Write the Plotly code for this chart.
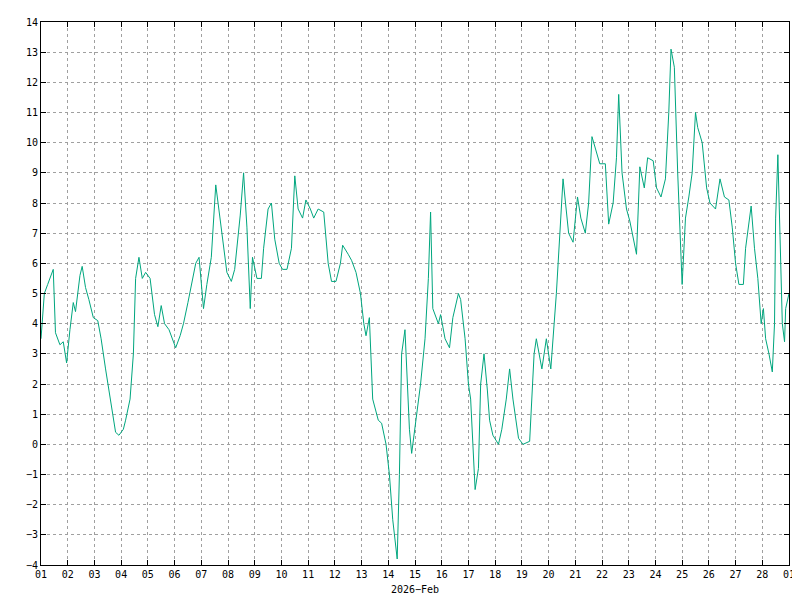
import pandas as pd
import plotly.graph_objs as go

# hours since 2026-02-01 00:00 and the value read at that hour
hours = [0, 3, 6, 11, 13, 17, 20, 23, 26, 29, 31, 35, 37, 40, 43, 47, 51, 54, 58, 61,
         64, 67, 70, 74, 76, 80, 83, 85, 88, 91, 94, 98, 102, 105, 108, 111, 115, 119, 121, 125,
         128, 132, 136, 139, 142, 146, 149, 153, 157, 161, 164, 167, 171, 174, 179, 182, 185, 188, 190, 194,
         198, 200, 204, 207, 210, 214, 217, 221, 225, 228, 231, 235, 238, 242, 245, 249, 254, 258, 261, 265,
         269, 271, 276, 279, 283, 287, 290, 292, 295, 298, 303, 306, 310, 313, 316, 320, 322, 324, 327, 331,
         333, 337, 341, 345, 348, 350, 352, 357, 359, 363, 367, 370, 375, 377, 381, 384, 386, 390, 393, 395,
         398, 401, 403, 406, 411, 414, 418, 421, 424, 429, 433, 439, 443, 445, 450, 454, 458, 463, 466, 469,
         474, 478, 482, 485, 489, 492, 495, 498, 502, 507, 510, 514, 517, 519, 522, 526, 529, 535, 538, 542,
         545, 550, 553, 557, 561, 564, 566, 569, 572, 576, 579, 582, 585, 588, 590, 594, 598, 601, 606, 610,
         614, 618, 621, 624, 627, 631, 633, 638, 641, 644, 647, 649, 651, 654, 657, 659, 660, 662, 664, 666,
         668, 669, 672]
values = [3.5, 5.0, 5.3, 5.8, 3.7, 3.3, 3.4, 2.7, 3.8, 4.7, 4.4, 5.6, 5.9, 5.2, 4.8, 4.2, 4.1, 3.5, 2.5, 1.8,
          1.0, 0.4, 0.3, 0.5, 0.8, 1.5, 3.0, 5.5, 6.2, 5.5, 5.7, 5.5, 4.3, 3.9, 4.6, 4.0, 3.8, 3.4, 3.2, 3.6,
          4.0, 4.7, 5.5, 6.0, 6.2, 4.5, 5.3, 6.2, 8.6, 7.5, 6.5, 5.7, 5.4, 5.8, 7.6, 9.0, 7.2, 4.5, 6.2, 5.5,
          5.5, 6.5, 7.8, 8.0, 6.8, 6.0, 5.8, 5.8, 6.5, 8.9, 7.8, 7.5, 8.1, 7.8, 7.5, 7.8, 7.7, 6.0, 5.4, 5.4,
          6.0, 6.6, 6.3, 6.1, 5.7, 5.0, 4.0, 3.6, 4.2, 1.5, 0.8, 0.7, 0.0, -1.0, -2.5, -3.8, -1.0, 3.0, 3.8, 0.5,
          -0.3, 0.8, 2.0, 3.5, 5.5, 7.7, 4.5, 4.0, 4.3, 3.5, 3.2, 4.2, 5.0, 4.8, 3.5, 2.0, 1.5, -1.5, -0.8, 2.0,
          3.0, 1.8, 0.8, 0.3, 0.0, 0.5, 1.5, 2.5, 1.5, 0.2, 0.0, 0.1, 3.0, 3.5, 2.5, 3.5, 2.5, 5.0, 7.0, 8.8,
          7.0, 6.7, 8.2, 7.5, 7.0, 8.0, 10.2, 9.8, 9.3, 9.3, 7.3, 8.0, 9.5, 11.6, 9.0, 7.8, 7.4, 6.3, 9.2, 8.5,
          9.5, 9.4, 8.5, 8.2, 8.8, 11.0, 13.1, 12.5, 9.0, 5.3, 7.5, 8.2, 9.0, 11.0, 10.5, 10.0, 8.5, 8.0, 7.8, 8.8,
          8.2, 8.1, 7.2, 6.0, 5.3, 5.3, 6.5, 7.9, 6.5, 5.5, 4.0, 4.5, 3.5, 3.0, 2.4, 4.0, 7.5, 9.6, 7.0, 4.0,
          3.4, 4.5, 5.0]

start = pd.Timestamp('2026-02-01')
times = [start + pd.Timedelta(hours=h) for h in hours]

fig = go.Figure(go.Scatter(x=times, y=values, mode='lines',
                           line=dict(color='#00a67e', width=1), hoverinfo='skip'))

axis_common = dict(showline=True, linecolor='black', linewidth=1, mirror='ticks',
                   ticks='inside', ticklen=5, tickcolor='black', automargin=False,
                   showgrid=True, gridcolor='#a0a0a0', griddash='dot', gridwidth=1,
                   zeroline=False, tickfont=dict(size=10, color='black'))

fig.update_layout(
    width=800, height=600,
    margin=dict(l=33, r=19, t=14, b=43),
    paper_bgcolor='white', plot_bgcolor='white',
    font=dict(family='DejaVu Sans Mono', size=10, color='black'),
    showlegend=False,
    xaxis=dict(range=[start, pd.Timestamp('2026-03-01')], dtick=86400000, tick0=start,
               tickformat='%d', title=dict(text='2026\u2212Feb', font=dict(size=10), standoff=6),
               **axis_common),
    yaxis=dict(range=[-4, 14], dtick=1, **axis_common),
)

fig.write_html("out.html")
